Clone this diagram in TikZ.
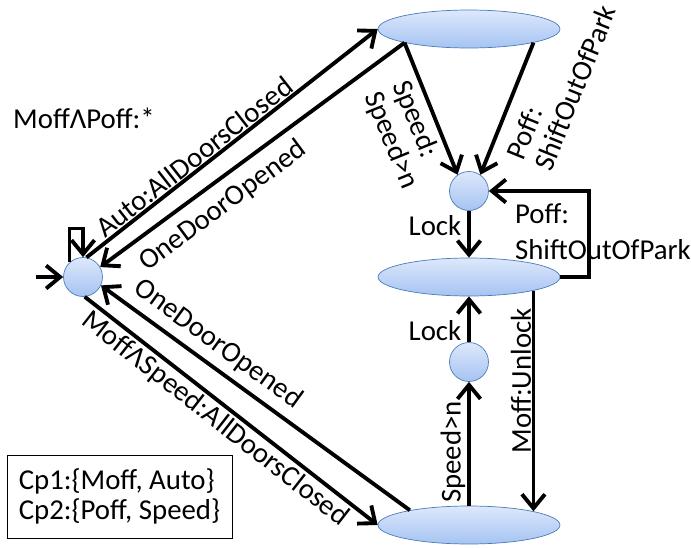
\documentclass[tikz,border=0pt]{standalone}
\usepackage{fontspec}
\setmainfont{Carlito}
\usepackage{tikz}
\usetikzlibrary{calc}
\usetikzlibrary{arrows.meta}
\usetikzlibrary{shapes.geometric}
\usetikzlibrary{positioning}
\definecolor{ftop}{HTML}{DDE8FB}
\definecolor{fbot}{HTML}{A6C3F2}
\definecolor{rim}{HTML}{4A7EBB}
\tikzset{small/.style={circle,draw=rim,thin,top color=ftop,bottom color=fbot,minimum size=0.78cm,inner sep=0pt}}
\tikzset{big/.style={ellipse,draw=rim,thin,top color=ftop,bottom color=fbot,minimum width=3.64cm,minimum height=0.76cm,inner sep=0pt}}
\tikzset{arr/.style={line width=2.2pt,-{Straight Barb[length=2.8mm,width=4.6mm]}}}
\tikzset{lab/.style={font=\fontsize{16.4}{17}\selectfont,inner sep=1pt}}

\begin{document}
\begin{tikzpicture}[x=0.02cm,y=-0.02cm]
\useasboundingbox (0,0) rectangle (691,548);

\foreach \n / \y in {T/29, M/277, B/525} {
	\node[big] (\n) at (469,\y) {};
	}
\foreach \n / \x / \y in {L/83/277, C1/469/191, C2/469/362} {
	\node[small] (\n) at (\x,\y) {};
	}
\coordinate (init) at (36,277);

\draw[arr] (init) -- (L.west);
\draw[arr] (L.133) -- ++(0,-34) -| (L.north);
\draw[arr] (L.80) -- (T.west);
\draw[arr] (T.192) -- (L.30);
\draw[arr] (B.166) -- (L.-25);
\draw[arr] (L.-85) -- (B.west);
\draw[arr] (T.192) -- (C1.125);
\draw[arr] (T.-12) -- (C1.55);
\draw[arr] (C1.south) -- (M.north);
\draw[arr] (M.east) -- ++(29,0) |- (C1.east);
\draw[arr] (C2.north) -- (M.south);
\draw[arr] (B.north) -- (C2.south);
\draw[arr] (M.-12) -- (B.12);

\node[lab] (lInit) at (84,118) {MoffΛPoff:*};
\node[lab, rotate=38] (lAuto) at (194,157) {Auto:AllDoorsClosed};
\node[lab, rotate=36.5] (lOne1) at (223,206) {OneDoorOpened};
\node[lab, rotate=-36] (lOne2) at (218,344) {OneDoorOpened};
\node[lab, rotate=-38] (lMS) at (215,419) {MoffΛSpeed:AllDoorsClosed};
\node[lab, rotate=-68, align=left] (lSpd) at (405,135) {Speed:\\Speed>n};
\node[lab, rotate=68, align=left] (lPoff) at (561,82) {Poff:\\ShiftOutOfPark};
\node[lab, align=left, anchor=north west] (lPoffR) at (513,201) {Poff:\\[4pt]ShiftOutOfPark};
\node[lab] (lLock1) at (435,226) {Lock};
\node[lab] (lLock2) at (435,331) {Lock};
\node[lab, rotate=90] (lSpdN) at (453,452) {Speed>n};
\node[lab, rotate=90] (lUnl) at (521,381) {Moff:Unlock};
\node[lab, draw, thin, align=left, minimum width=4.5cm, minimum height=1.66cm] (cp) at (119.5,496.5) {Cp1:\{Moff, Auto\}\\Cp2:\{Poff, Speed\}};
\end{tikzpicture}
\end{document}
